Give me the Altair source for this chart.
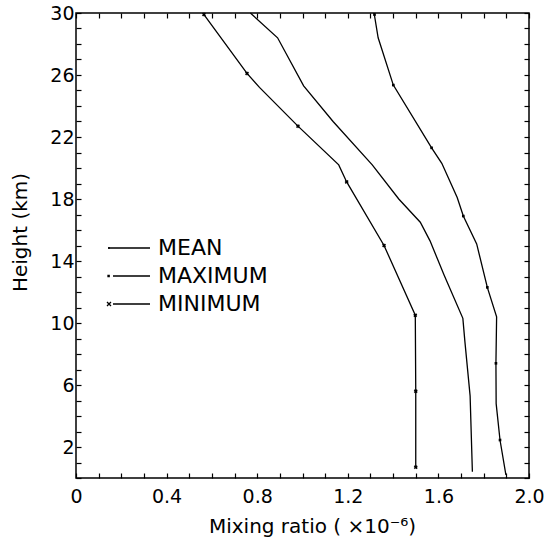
import altair as alt
import pandas as pd

# ---------------- data ----------------
series_names = ["MEAN", "MAXIMUM", "MINIMUM"]

mean_height = [0.4, 5.3, 8.8, 10.3, 13.1, 15.3, 16.5, 18.0, 20.2, 23.0, 25.3, 28.4, 30.0]
mean_ratio = [1.750, 1.740, 1.717, 1.708, 1.625, 1.563, 1.520, 1.425, 1.308, 1.135, 1.005, 0.890, 0.770]

max_height = [0.2, 2.45, 4.8, 7.4, 10.4, 12.3, 15.1, 16.9, 18.1, 20.3, 21.3, 25.35, 28.4, 30.0]
max_ratio = [1.898, 1.872, 1.855, 1.854, 1.857, 1.816, 1.769, 1.710, 1.683, 1.615, 1.570, 1.401, 1.334, 1.316]

min_height = [0.7, 5.6, 10.5, 15.0, 19.1, 20.2, 22.7, 25.2, 26.1, 29.9]
min_ratio = [1.500, 1.500, 1.498, 1.360, 1.195, 1.160, 0.980, 0.810, 0.755, 0.565]

max_marker_height = [2.45, 7.4, 12.3, 16.9, 21.3, 25.35, 29.9]
max_marker_ratio = [1.872, 1.854, 1.816, 1.710, 1.570, 1.401, 1.318]

min_marker_height = [0.7, 5.6, 10.5, 15.0, 19.1, 22.7, 26.1, 29.9]
min_marker_ratio = [1.500, 1.500, 1.498, 1.360, 1.195, 0.980, 0.755, 0.565]

x_tick_values = [round(i * 0.1, 1) for i in range(21)]
x_label_values = [0, 0.4, 0.8, 1.2, 1.6, 2.0]
y_tick_values = list(range(0, 31))
y_label_values = [2, 6, 10, 14, 18, 22, 26, 30]

# legend symbols: marker + short line (SVG paths, 1 unit = 1 px at size 4)
legend_paths = [
    "M-33,0H9M-32,-1V1",
    "M-33,-0.6H-31.8V0.6H-33Z M-28,0H9",
    "M-34,-2L-30,2M-34,2L-30,-2M-28,0H9",
]

# ---------------- tables ----------------
line_df = pd.concat([
    pd.DataFrame({"series": "MEAN", "height": mean_height, "ratio": mean_ratio}),
    pd.DataFrame({"series": "MAXIMUM", "height": max_height, "ratio": max_ratio}),
    pd.DataFrame({"series": "MINIMUM", "height": min_height, "ratio": min_ratio}),
], ignore_index=True)
maxm_df = pd.DataFrame({"height": max_marker_height, "ratio": max_marker_ratio})
minm_df = pd.DataFrame({"height": min_marker_height, "ratio": min_marker_ratio})

FONT = "DejaVu Sans"
xs = alt.Scale(domain=[0, 2.0], nice=False, zero=False)
ys = alt.Scale(domain=[0, 30], nice=False, zero=False)

x_lab_arr = "[" + ",".join(str(v) for v in x_label_values) + "]"
y_lab_arr = "[" + ",".join(str(v) for v in y_label_values) + "]"

bottom_axis = alt.Axis(
    orient="bottom", values=x_tick_values, tickSize=5, offset=-5, domain=False,
    grid=False, tickColor="black", tickWidth=1.2,
    labelExpr=f"indexof({x_lab_arr}, datum.value) >= 0 ? (datum.value == 0 ? '0' : format(datum.value, '.1f')) : ''",
    labelOverlap=False, labelFlush=False, labelFont=FONT, labelFontSize=19,
    labelColor="black", labelPadding=9,
    title="Mixing ratio ( ×10⁻⁶)", titleFont=FONT, titleFontSize=20,
    titleFontWeight="normal", titleColor="black", titleX=236, titleY=59,
    titleAlign="center", titleBaseline="alphabetic",
)
left_axis = alt.Axis(
    orient="left", values=y_tick_values, tickSize=5, offset=-5, domain=False,
    grid=False, tickColor="black", tickWidth=1.2,
    labelExpr=f"indexof({y_lab_arr}, datum.value) >= 0 ? format(datum.value, 'd') : ''",
    labelOverlap=False, labelFont=FONT, labelFontSize=19, labelColor="black",
    labelPadding=2,
    title="Height (km)", titleFont=FONT, titleFontSize=20, titleFontWeight="normal",
    titleColor="black", titleAngle=270, titleX=-61, titleY=219,
    titleAlign="center", titleBaseline="middle",
)
top_axis = alt.Axis(
    orient="top", values=x_tick_values, tickSize=5, offset=-5, domain=False,
    grid=False, labels=False, title=None, tickColor="black", tickWidth=1.2,
)
right_axis = alt.Axis(
    orient="right", values=y_tick_values, tickSize=5, offset=-5, domain=False,
    grid=False, labels=False, title=None, tickColor="black", tickWidth=1.2,
)

lines = alt.Chart(line_df).mark_line(color="black", strokeWidth=1.3).encode(
    x=alt.X("ratio:Q", scale=xs, axis=bottom_axis),
    y=alt.Y("height:Q", scale=ys, axis=left_axis),
    detail="series:N",
    order=alt.Order("height:Q"),
)

min_marks = alt.Chart(minm_df).mark_point(
    shape="cross", angle=45, filled=True, size=16, color="black", opacity=1
).encode(
    x=alt.X("ratio:Q", axis=None),
    y=alt.Y("height:Q", axis=None),
)

max_marks = alt.Chart(maxm_df).mark_point(
    shape="square", filled=True, size=7, color="black", opacity=1
).encode(
    x=alt.X("ratio:Q", axis=None),
    y=alt.Y("height:Q", axis=None),
)

legend_layer = alt.Chart(line_df).mark_point(
    filled=False, color="black", strokeWidth=1.3, opacity=0
).encode(
    x=alt.X("ratio:Q", axis=top_axis),
    y=alt.Y("height:Q", axis=right_axis),
    shape=alt.Shape(
        "series:N",
        scale=alt.Scale(domain=series_names, range=legend_paths),
        legend=alt.Legend(
            orient="none", legendX=54, legendY=224, title=None, padding=0,
            labelFont=FONT, labelFontSize=22, labelColor="black",
            symbolSize=4, symbolStrokeWidth=1.3, symbolStrokeColor="black",
            symbolFillColor="black", symbolOpacity=1, labelOffset=6, rowPadding=6,
        ),
    ),
)

chart = alt.layer(lines, min_marks, max_marks, legend_layer).resolve_axis(
    x="independent", y="independent"
).properties(
    width=453, height=465,
    padding={"left": 76, "top": 13, "right": 15, "bottom": 65},
    autosize=alt.AutoSizeParams(type="none"),
    background="white",
).configure_view(stroke="black", strokeWidth=1.5)

chart.save("out.html", embed_options={"renderer": "svg", "actions": False})
